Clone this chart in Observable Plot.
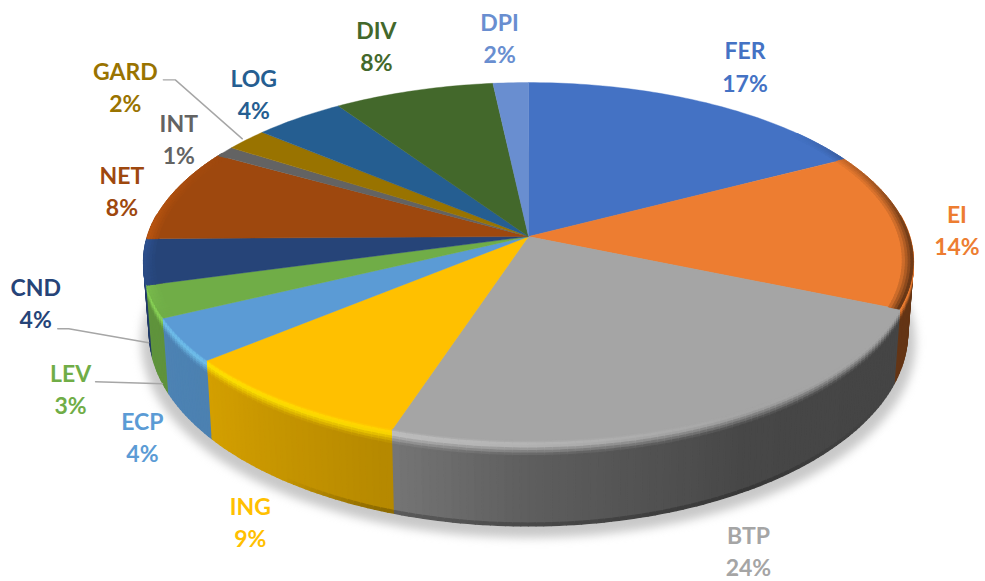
<!DOCTYPE html>
<html>
<head>
<meta charset="utf-8">
<script src="https://cdn.jsdelivr.net/npm/d3@7"></script>
<script src="https://cdn.jsdelivr.net/npm/@observablehq/plot@0.6"></script>
<style>html,body{margin:0;padding:0;background:#fff}svg{display:block}</style>
</head>
<body>
<div id="chart"></div>
<script>
// Data (share of the pie, in %)
const categories = ["FER","EI","BTP","ING","ECP","LEV","CND","NET","INT","GARD","LOG","DIV","DPI"];
const shares = [17.25,14.15,23.6,8.9,3.9,2.9,4.1,8.4,0.95,2.05,4.4,7.7,1.7];
const sliceColors = ["#4472c4","#ed7d31","#a5a5a5","#ffc000","#5b9bd5","#70ad47","#264478","#9e480e","#636363","#997300","#255e91","#43682b","#698ed0"];
// Label offset from the rim point at each slice's middle, px
const labelDx = [41,50,39,-37,-40,-83,-108,-50,-46,-121,-45,-37,-11];
const labelDy = [-37,0,130,120,96,86,40,-5,-14,-54,-25,-46,-46];
// Leader lines: slice index and bends relative to its rim point
const leaders = [
  {slice:9, bends:[[-83,-60],[-71,-60],[-4,-1]]},
  {slice:6, bends:[[-86,67],[-75,67],[5,81]]},
  {slice:5, bends:[[-58,80],[9,82]]}
];

// Perspective view of the disc
const W = 985, H = 581, cx = 528, cy = 236, A = 381, B = 175.5, k = 0.14;
const rad = d => d * Math.PI / 180;
function P(theta, d = 0, r = 1) {
  const u = r * Math.sin(rad(theta)), v = -r * Math.cos(rad(theta));
  const w = 1 - k * v;
  const x = cx + A * u / w, y = cy + B * v / w;
  const h = 69 / (1 - 0.19 * v);
  return {x: cx + (x - cx) * (1 - 0.015 * d), y: y + h * d, v};
}
// Shade of the side wall by angle round the disc
const wallShade = d3.scaleLinear().domain([0,130,150,180,198,230,260,360]).range([.42,.42,.43,.57,.71,.83,.86,.9]).clamp(true);
const glow = d3.scaleLinear().domain([0,150,180,198,230,360]).range([0,0,.3,.45,.6,.6]).clamp(true);
const rimDark = d3.scaleLinear().domain([50,85,115]).range([0,.85,1]).clamp(true);
const rimLight = d3.scaleLinear().domain([245,268,300]).range([0,.55,0]).clamp(true);
const lip = d3.scaleLinear().domain([120,150,200,215]).range([0,.22,.22,0]).clamp(true);

const total = d3.sum(shares);
let acc = 0;
const slices = categories.map((name,i) => {
  const a0 = acc / total * 360; acc += shares[i];
  const a1 = acc / total * 360;
  return {name, i, a0, a1, mid:(a0+a1)/2, color:sliceColors[i], share:shares[i]/total};
});

const faces = [], wallCells = [], rims = [], shadow = [];
let id = 0;
const mix = (a,b,t) => d3.interpolateRgb(a,b)(t);
const hex = c => d3.rgb(c).formatHex();
const bevelStops = [0,.03,.06,.09,.12,.15,.18];
const rimStops = [.972,.98,.987,.994,1];
for (const s of slices) {
  const n = Math.ceil(s.a1 - s.a0);
  const fid = "f"+s.i;
  faces.push({id:fid,x:cx,y:cy,c:s.color});
  for (let j=0;j<=n;j++){ const p=P(s.a0+(s.a1-s.a0)*j/n); faces.push({id:fid,x:p.x,y:p.y,c:s.color}); }
  faces.push({id:fid,x:cx,y:cy,c:s.color});
  for (let j=0;j<n;j++){
    const t0=s.a0+(s.a1-s.a0)*j/n, t1=s.a0+(s.a1-s.a0)*(j+1)/n, tm=(t0+t1)/2;
    const vm=-Math.cos(rad(tm));
    const base=d3.rgb(s.color), f=wallShade(tm);
    const wc=d3.rgb(base.r*f,base.g*f,base.b*f).formatHex();
    // thin shaded edge on the top face at the left and right sides
    const amtD=tm<180?rimDark(tm):0, amtL=tm>180?rimLight(tm):0;
    if ((amtD>0||amtL>0) && s.name!=="BTP") {
      const target=amtD>0?wc:hex(base.brighter(.8));
      const amt=amtD>0?amtD:amtL;
      for(let b=0;b<rimStops.length-1;b++){
        const q=(b+1)/(rimStops.length-1);
        const c=hex(mix(s.color,target,amt*q));
        const rid="r"+(id++);
        for(const p of [P(t0,0,rimStops[b]),P(t1,0,rimStops[b]),P(t1,0,rimStops[b+1]),P(t0,0,rimStops[b+1]),P(t0,0,rimStops[b])])
          rims.push({id:rid,x:p.x,y:p.y,c});
      }
    }
    if (vm < -0.12) continue;
    const light=hex(base.brighter(1));
    const peak=mix(s.color,light,glow(tm));
    const cell=(d0,d1,c)=>{
      const cid="w"+(id++);
      const pts=[P(t0,d0),P(t1,d0),P(t1,d1),P(t0,d1),P(t0,d0)];
      wallCells.push({v:vm,pts:pts.map(p=>({id:cid,x:p.x,y:p.y,c}))});
    };
    for(let b=0;b<bevelStops.length-1;b++){
      const q=(b+.5)/(bevelStops.length-1);
      const c= q<.35 ? mix(s.color,peak,q/.35) : mix(peak,wc,(q-.35)/.65);
      cell(bevelStops[b],bevelStops[b+1],hex(c));
    }
    cell(bevelStops[bevelStops.length-1],.97,wc);
    cell(.97,1,hex(mix(wc,"#000",lip(tm))));
  }
}
wallCells.sort((a,b)=>a.v-b.v);
const walls = wallCells.flatMap(c=>c.pts);
for (let t=0;t<=360;t+=2){ const a=P(t,0), b=P(t,1.14); shadow.push({x:cx+(a.x-cx)*1.006,y:b.y}); }

const labels = slices.map((s,i)=>{
  const p=P(s.mid);
  return {x:p.x+labelDx[i], y:p.y+labelDy[i], text:`${s.name}\n${d3.format(".0%")(s.share)}`, c:s.color};
});
const leaderPts = leaders.flatMap((l,li)=>{
  const p=P(slices[l.slice].mid);
  return l.bends.map(([dx,dy])=>({id:li,x:p.x+dx,y:p.y+dy}));
});

const poly = (data,extra={}) => Plot.line(data,{x:"x",y:"y",z:"id",fill:"c",stroke:"c",strokeWidth:1.6,curve:"linear",...extra});

const plot = Plot.plot({
  width:W,height:H,margin:0,
  x:{domain:[0,W],range:[0,W],axis:null},
  y:{domain:[0,H],range:[0,H],axis:null},
  color:{type:"identity"},
  style:{background:"#fff"},
  marks:[
    Plot.line(shadow,{x:"x",y:"y",fill:"#b0b0b0",stroke:"none",fillOpacity:.7,curve:"linear",imageFilter:"blur(5px)"}),
    poly(walls),
    poly(faces,{strokeWidth:.4}),
    poly(rims,{strokeWidth:.9}),
    Plot.line(leaderPts,{x:"x",y:"y",z:"id",stroke:"#a6a6a6",strokeWidth:1.4,curve:"linear"}),
    Plot.text(labels,{x:"x",y:"y",text:"text",fill:"c",fontSize:23,fontWeight:700,fontFamily:"Lato",lineHeight:1.4,textAnchor:"middle",lineAnchor:"middle"})
  ]
});
document.getElementById("chart").append(plot);
</script>
</body>
</html>
